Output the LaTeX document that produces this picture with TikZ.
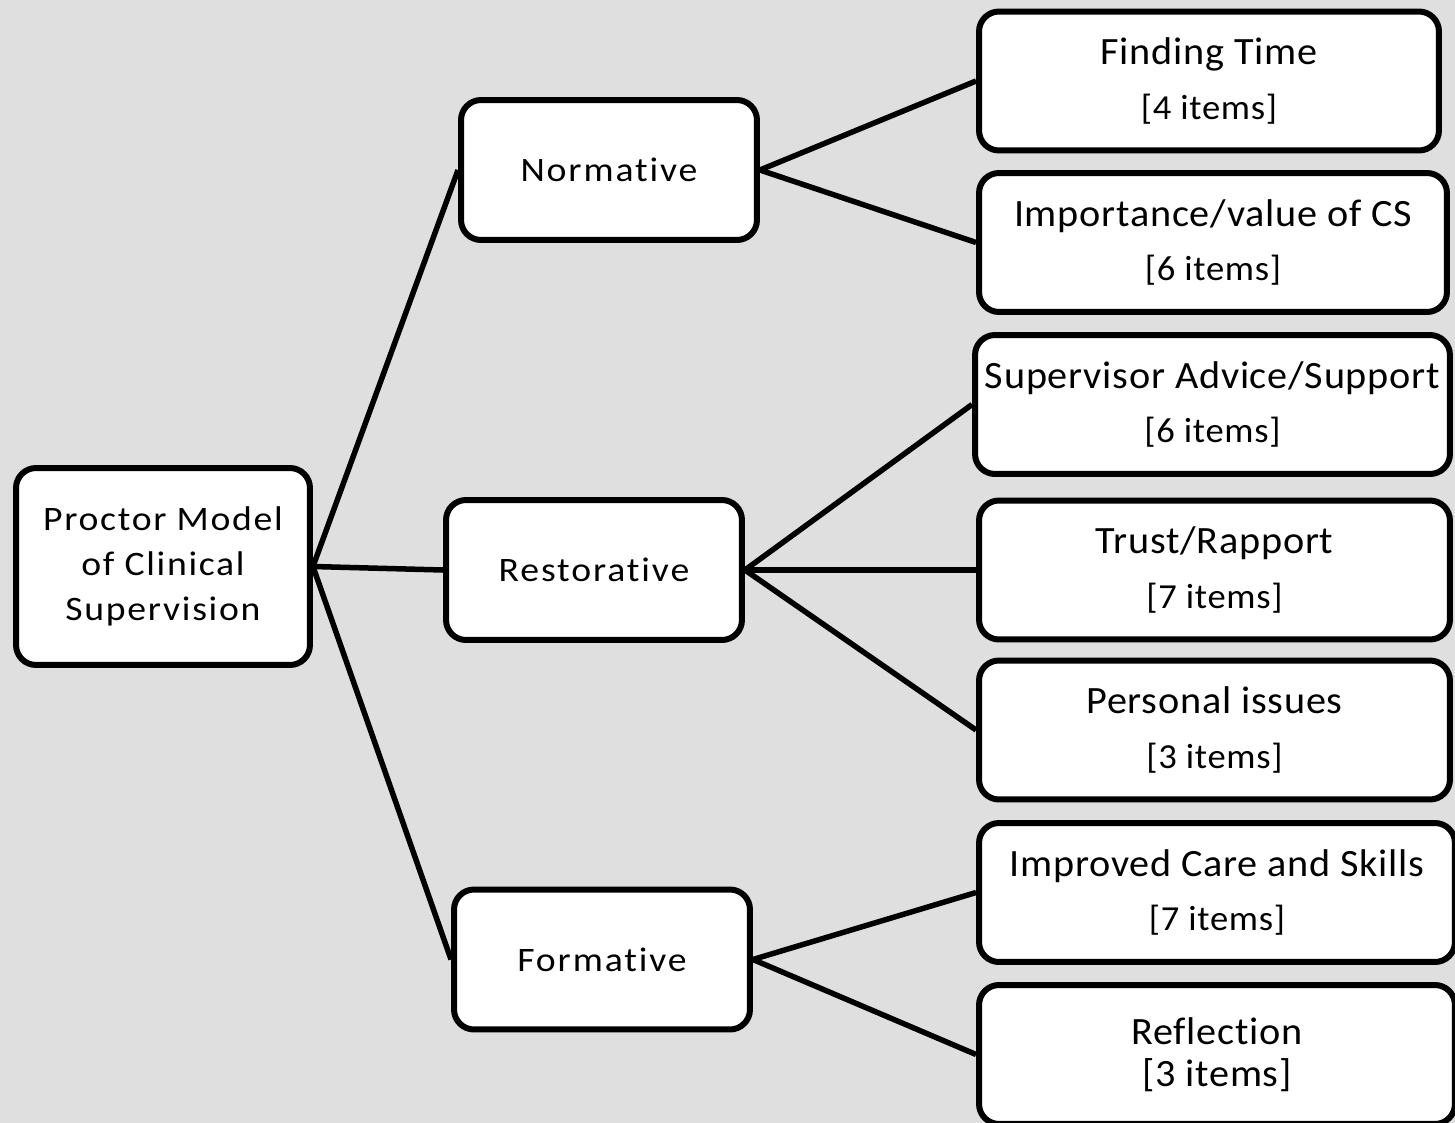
\documentclass[tikz,border=0pt]{standalone}
\usepackage{fontspec}
\setmainfont{Carlito}[Ligatures=NoCommon]
\usepackage{tikz}
\usetikzlibrary{positioning}

\definecolor{bggrey}{RGB}{223,223,223}
\newcommand{\itemcount}[1]{{\fontsize{20}{24}\selectfont[#1 items]}}

\begin{document}
\begin{tikzpicture}[x=0.02cm, y=-0.02cm,
		box/.style={shape=rectangle, draw=black, fill=white, line width=0.12cm,
			rounded corners=0.4cm, align=center, inner sep=0pt},
		midbox/.style={box, minimum width=5.92cm, minimum height=2.8cm,
			font=\fontsize{19.5}{25.5}\selectfont\addfontfeature{FakeStretch=1.1,LetterSpace=5.5}},
		leafbox/.style={box, minimum height=2.78cm,
			font=\fontsize{22}{31}\selectfont\addfontfeature{FakeStretch=1.04,LetterSpace=2}},
		link/.style={line width=0.11cm}]
		\fill[bggrey] (0,0) rectangle (1455,1123);
		\useasboundingbox (0,0) rectangle (1455,1123);
		
		\node[box, minimum width=5.88cm, minimum height=3.94cm, font=\fontsize{19.5}{25.5}\selectfont\addfontfeature{FakeStretch=1.1,LetterSpace=5}] (P) at (163,566.5) {Proctor Model\\of Clinical\\Supervision};
		
		\node[midbox] (N) at (609,170) {Normative};
		\node[midbox] (R) at (594,570) {Restorative};
		\node[midbox] (F) at (602,959.5) {Formative};
		
		\node[leafbox, minimum width=9.2cm] (N1) at (1209,81) {Finding Time\\\itemcount{4}};
		\node[leafbox, minimum width=9.36cm] (N2) at (1213,242.5) {Importance/value of CS\\\itemcount{6}};
		\node[leafbox, minimum width=9.5cm] (R1) at (1212.5,404.5) {Supervisor Advice/Support\\\itemcount{6}};
		\node[leafbox, minimum width=9.42cm] (R2) at (1214.5,570) {Trust/Rapport\\\itemcount{7}};
		\node[leafbox, minimum width=9.42cm] (R3) at (1214.5,730) {Personal issues\\\itemcount{3}};
		\node[leafbox, minimum width=9.52cm] (F1) at (1217,892.5) {Improved Care and Skills\\\itemcount{7}};
		\node[leafbox, minimum width=9.52cm] (F2) at (1217,1054.5) {Reflection\\[-7pt]{[3 items]}};
		
		\path[link](P.east) edge (N.west);
		\path[link](P.east) edge (R.west);
		\path[link](P.east) edge (F.west);
		\path[link](N.east) edge (N1.west);
		\path[link](N.east) edge (N2.west);
		\path[link](R.east) edge (R1.west);
		\path[link](R.east) edge (R2.west);
		\path[link](R.east) edge (R3.west);
		\path[link](F.east) edge (F1.west);
		\path[link](F.east) edge (F2.west);
		
	\end{tikzpicture}
\end{document}
